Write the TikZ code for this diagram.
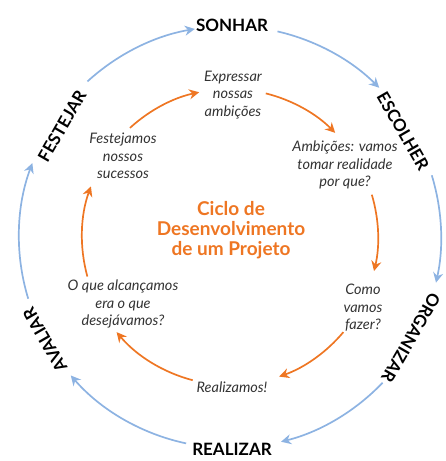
\documentclass[tikz,border=0pt]{standalone}
\usepackage{fontspec}
\setmainfont{Lato}
\usetikzlibrary{arrows.meta,calc}
\definecolor{arcblue}{HTML}{8DB3E2}
\definecolor{orng}{HTML}{EE7623}
\definecolor{txtgray}{HTML}{333333}
\begin{document}
\begin{tikzpicture}[x=1pt,y=1pt,
  outerlbl/.style={font=\bfseries\fontsize{17}{18}\selectfont, text=black, inner sep=0pt},
  innerlbl/.style={font=\itshape\fontsize{14.5}{17.5}\selectfont, text=txtgray, align=center, inner sep=0pt},
  titlelbl/.style={font=\bfseries\fontsize{19}{20}\selectfont, text=orng, align=center, inner sep=0pt},
  bluearc/.style={draw=arcblue, line width=1.7pt, -{Stealth[length=10pt,width=10pt]}},
  orangearc/.style={draw=orng, line width=1.7pt, -{Stealth[length=10pt,width=10pt]}},
]
\useasboundingbox (0,0) rectangle (446,461);
\coordinate (C) at (230,224);

% outer labels
\node[outerlbl] (sonhar) at (232,436) {SONHAR};
\node[outerlbl, rotate=-60] (escolher) at (403,330) {ESCOLHER};
\node[outerlbl, rotate=-120] (organizar) at (411,123) {ORGANIZAR};
\node[outerlbl] (realizar) at (232,12) {REALIZAR};
\node[outerlbl, rotate=120] (avaliar) at (45,121) {AVALIAR};
\node[outerlbl, rotate=60] (festejar) at (62,335) {FESTEJAR};

% outer arcs
\coordinate (b1) at ($(C)+(132.5:211)$);
\coordinate (b2) at ($(C)+(77:211)$);
\coordinate (b3) at ($(C)+(17:211)$);
\coordinate (b4) at ($(C)+(-43.7:211)$);
\coordinate (b5) at ($(C)+(-102:211)$);
\coordinate (b6) at ($(C)+(-163:211)$);
\draw[bluearc] (b1) arc[start angle=132.5, end angle=99.6, radius=211];
\draw[bluearc] (b2) arc[start angle=77, end angle=45, radius=211];
\draw[bluearc] (b3) arc[start angle=17, end angle=-12.5, radius=211];
\draw[bluearc] (b4) arc[start angle=-43.7, end angle=-76, radius=211];
\draw[bluearc] (b5) arc[start angle=-102, end angle=-139, radius=211];
\draw[bluearc] (b6) arc[start angle=-163, end angle=-200.5, radius=211];

% title
\node[titlelbl] (title) at (231,231) {Ciclo de\\Desenvolvimento\\de um Projeto};

% inner labels
\node[innerlbl] (expr) at (233,366) {Expressar\\nossas\\ambições};
\node[innerlbl] (ambi) at (345,296) {Ambições: vamos\\tomar realidade\\por que?};
\node[innerlbl] (como) at (363,153) {Como\\vamos\\fazer?};
\node[innerlbl] (realiz) at (232,74) {Realizamos!};
\node[innerlbl] (oque) at (123,157) {O que alcançamos\\era o que\\desejávamos?};
\node[innerlbl] (fest) at (123,305) {Festejamos\\nossos\\sucessos};

% inner arcs
\coordinate (o1) at ($(C)+(132.5:148)$);
\coordinate (o2) at ($(C)+(76:148)$);
\coordinate (o3) at ($(C)+(16.6:148)$);
\coordinate (o4) at ($(C)+(-40:148)$);
\coordinate (o5) at ($(C)+(-104.6:148)$);
\coordinate (o6) at ($(C)+(-164.5:148)$);
\draw[orangearc] (o1) arc[start angle=132.5, end angle=102, radius=148];
\draw[orangearc] (o2) arc[start angle=76, end angle=44.7, radius=148];
\draw[orangearc] (o3) arc[start angle=16.6, end angle=-13.3, radius=148];
\draw[orangearc] (o4) arc[start angle=-40, end angle=-70.6, radius=148];
\draw[orangearc] (o5) arc[start angle=-104.6, end angle=-140, radius=148];
\draw[orangearc] (o6) arc[start angle=-164.5, end angle=-200, radius=148];
\end{tikzpicture}
\end{document}
